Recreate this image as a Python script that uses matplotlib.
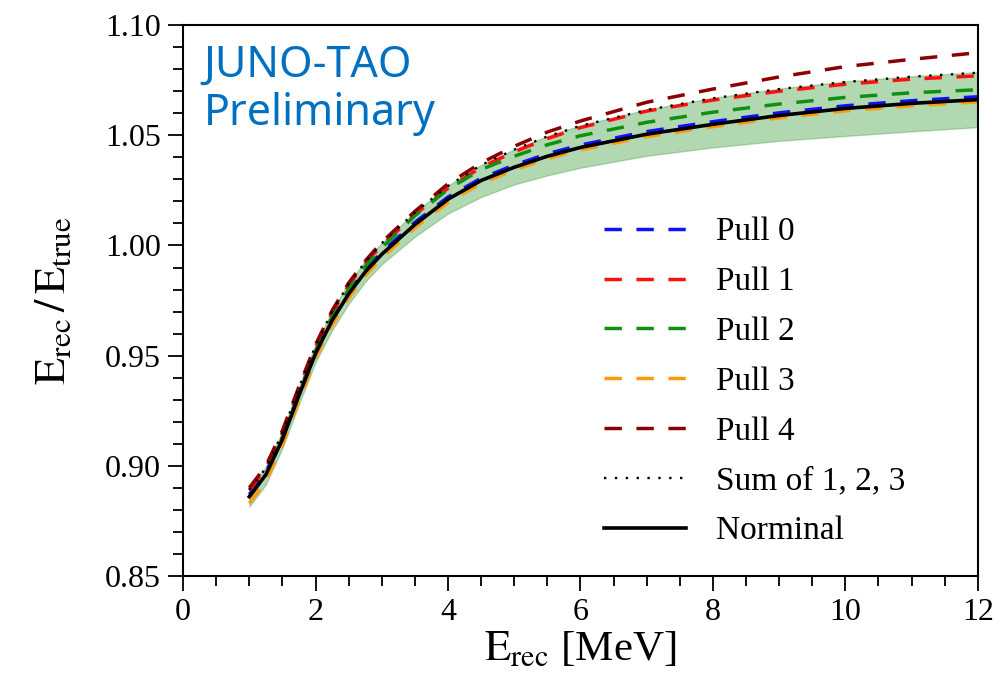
import matplotlib
matplotlib.use("Agg")
import matplotlib.pyplot as plt
from matplotlib.ticker import MultipleLocator, FormatStrFormatter

plt.rcParams['font.family'] = ['Liberation Serif', 'DejaVu Serif']
plt.rcParams['mathtext.fontset'] = 'stix'

# ---- data ----
e_rec = [1.0, 1.25, 1.5, 1.75, 2.0, 2.25, 2.5, 2.75, 3.0, 3.5, 4.0, 4.5, 5.0,
         5.5, 6.0, 7.0, 8.0, 9.0, 10.0, 11.0, 12.0]

nominal = [0.8860, 0.8960, 0.9120, 0.9320, 0.9510, 0.9660, 0.9780, 0.9880, 0.9960,
           1.0095, 1.0210, 1.0295, 1.0355, 1.0405, 1.0445, 1.0505, 1.0550, 1.0590,
           1.0622, 1.0645, 1.0662]
pull0 = [0.8870, 0.8970, 0.9130, 0.9330, 0.9520, 0.9670, 0.9790, 0.9890, 0.9970,
         1.0105, 1.0220, 1.0305, 1.0365, 1.0416, 1.0456, 1.0517, 1.0562, 1.0602,
         1.0634, 1.0657, 1.0675]
pull1 = [0.8890, 0.8990, 0.9150, 0.9350, 0.9540, 0.9695, 0.9820, 0.9920, 1.0000,
         1.0140, 1.0260, 1.0355, 1.0425, 1.0485, 1.0535, 1.0610, 1.0660, 1.0700,
         1.0732, 1.0755, 1.0770]
pull2 = [0.8860, 0.8960, 0.9125, 0.9325, 0.9520, 0.9675, 0.9800, 0.9905, 0.9990,
         1.0135, 1.0255, 1.0345, 1.0405, 1.0457, 1.0498, 1.0559, 1.0605, 1.0642,
         1.0672, 1.0693, 1.0707]
pull3 = [0.8830, 0.8930, 0.9095, 0.9295, 0.9490, 0.9640, 0.9762, 0.9863, 0.9944,
         1.0080, 1.0196, 1.0282, 1.0343, 1.0394, 1.0434, 1.0494, 1.0539, 1.0579,
         1.0611, 1.0634, 1.0652]
pull4 = [0.8900, 0.9000, 0.9160, 0.9360, 0.9550, 0.9705, 0.9830, 0.9930, 1.0015,
         1.0155, 1.0280, 1.0375, 1.0450, 1.0515, 1.0565, 1.0650, 1.0710, 1.0765,
         1.0812, 1.0845, 1.0875]
sum123 = [0.8890, 0.8990, 0.9150, 0.9355, 0.9545, 0.9700, 0.9825, 0.9925, 1.0010,
          1.0150, 1.0270, 1.0365, 1.0435, 1.0495, 1.0543, 1.0615, 1.0668, 1.0710,
          1.0742, 1.0766, 1.0784]
band_lo = [0.8815, 0.8915, 0.9080, 0.9280, 0.9470, 0.9615, 0.9735, 0.9835, 0.9915,
           1.0040, 1.0145, 1.0220, 1.0277, 1.0318, 1.0353, 1.0407, 1.0445, 1.0475,
           1.0497, 1.0518, 1.0537]
band_hi = [0.8895, 0.8995, 0.9155, 0.9360, 0.9550, 0.9705, 0.9830, 0.9930, 1.0012,
           1.0150, 1.0272, 1.0366, 1.0436, 1.0497, 1.0545, 1.0617, 1.0670, 1.0712,
           1.0745, 1.0768, 1.0787]

labels = ['Pull 0', 'Pull 1', 'Pull 2', 'Pull 3', 'Pull 4', 'Sum of 1, 2, 3', 'Norminal']
colors = ['#1010ff', '#ff1010', '#109010', '#ff9a10', '#8b0000', 'black', 'black']

fig = plt.figure(figsize=(10.06, 6.8), dpi=100)
ax = fig.add_axes([0.182, 0.153, 0.790, 0.810])

ax.fill_between(e_rec, band_lo, band_hi, color='green', alpha=0.3, lw=1.0,
                edgecolor='#2e8b2e')

dash = (0, (5, 4.2))
series = [pull0, pull1, pull2, pull3, pull4]
handles = []
for ys, c, lab in zip(series, colors[:5], labels[:5]):
    h, = ax.plot(e_rec, ys, color=c, lw=2.5, linestyle=dash, label=lab)
    handles.append(h)
h, = ax.plot(e_rec, sum123, color='black', lw=1.7, linestyle=(0, (1, 3.6)), label=labels[5])
handles.append(h)
h, = ax.plot(e_rec, nominal, color='black', lw=2.6, linestyle='-', label=labels[6])
handles.append(h)

ax.set_xlim(0, 12)
ax.set_ylim(0.85, 1.10)
ax.xaxis.set_major_locator(MultipleLocator(2))
ax.xaxis.set_minor_locator(MultipleLocator(0.5))
ax.yaxis.set_major_locator(MultipleLocator(0.05))
ax.yaxis.set_minor_locator(MultipleLocator(0.01))
ax.yaxis.set_major_formatter(FormatStrFormatter('%.2f'))

ax.tick_params(which='major', direction='out', length=11, width=1.3, labelsize=23, pad=5,
               top=False, right=False)
ax.tick_params(which='minor', direction='out', length=7, width=1.3, top=False, right=False)
for s in ax.spines.values():
    s.set_linewidth(1.5)

ax.set_xlabel(r'$\mathrm{E_{rec}}$ [MeV]', fontsize=31, labelpad=2)
ax.set_ylabel(r'$\mathrm{E_{rec}}\,/\,\mathrm{E_{true}}$', fontsize=32, labelpad=22)

leg = ax.legend(handles=handles, loc='upper left', bbox_to_anchor=(0.529, 0.652),
                frameon=False, fontsize=24, handlelength=2.46, handletextpad=0.9,
                labelspacing=0.58, borderpad=0, borderaxespad=0)

ax.text(0.026, 0.966, 'JUNO-TAO\nPreliminary', transform=ax.transAxes,
        fontsize=31, color='#0070c0', va='top', ha='left',
        family=['Noto Sans', 'DejaVu Sans'], linespacing=1.12)

fig.savefig('out.png', dpi=100)
